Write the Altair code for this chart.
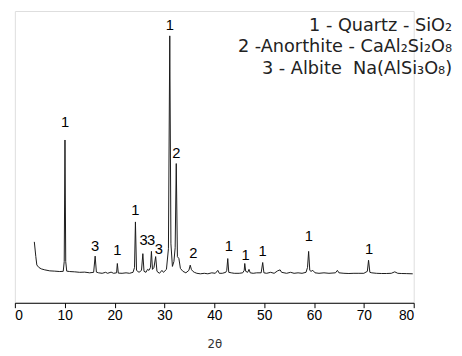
import altair as alt
import pandas as pd

# XRD trace: 2-theta (deg) and intensity (arbitrary counts)
two_theta = [
    3.9, 4.2, 4.4, 4.8, 5.3, 6.0, 7.0, 8.0, 9.0, 9.7, 9.9, 10.05, 10.2, 10.4,
    11.0, 12.0, 13.0, 14.0, 15.0, 15.8, 16.1, 16.35, 16.8, 17.5, 18.2, 18.6,
    19.3, 19.8, 20.4, 20.55, 20.75, 21.5, 22.3, 23.0, 23.7, 24.0, 24.18, 24.4,
    24.9, 25.4, 25.67, 25.9, 26.3, 26.6, 26.9, 27.2, 27.39, 27.6, 27.9, 28.24,
    28.5, 29.0, 29.5, 29.8, 30.4, 30.8, 31.07, 31.3, 31.6, 31.9, 32.15, 32.37,
    32.6, 32.9, 33.2, 33.7, 34.3, 34.9, 35.17, 35.4, 35.7, 36.0, 36.5, 37.2,
    38.0, 38.7, 39.5, 40.2, 40.7, 41.0, 41.6, 42.3, 42.5, 42.7, 42.9, 43.4,
    44.0, 45.0, 45.7, 46.0, 46.11, 46.3, 46.7, 46.96, 47.2, 47.8, 48.5, 49.4,
    49.71, 49.95, 50.5, 51.3, 52.0, 52.7, 53.2, 53.5, 54.5, 55.3, 56.0, 56.8,
    57.6, 58.4, 58.7, 58.92, 59.15, 59.4, 59.76, 60.2, 61.0, 62.0, 63.0, 64.3,
    64.69, 65.0, 66.0, 67.0, 68.0, 69.0, 70.0, 70.7, 70.94, 71.2, 71.6, 72.5,
    73.5, 74.5, 75.5, 76.2, 76.8, 77.5, 78.5, 79.8,
]
intensity = [
    620, 470, 385, 360, 345, 335, 325, 322, 318, 320, 420, 1657, 420, 322,
    318, 315, 310, 312, 305, 310, 475, 312, 305, 300, 310, 300,
    312, 300, 305, 400, 302, 300, 305, 300, 310, 360, 823, 330,
    310, 330, 500, 320, 310, 340, 330, 360, 523, 340, 360, 470,
    320, 300, 330, 310, 340, 550, 2717, 600, 370, 420, 560, 1417,
    470, 450, 350, 320, 305, 330, 383, 340, 320, 310, 300, 295,
    300, 295, 305, 300, 330, 300, 300, 310, 330, 450, 310, 305,
    300, 300, 305, 330, 400, 320, 310, 340, 305, 300, 305, 305,
    410, 305, 300, 310, 300, 325, 335, 310, 300, 310, 300, 305,
    300, 310, 360, 523, 330, 320, 330, 305, 300, 305, 300, 305,
    330, 305, 300, 298, 300, 300, 300, 320, 433, 310, 305, 300,
    298, 298, 300, 315, 300, 298, 297, 295,
]

# Peak phase labels
label_x = [10.05, 16.1, 20.55, 24.18, 25.8, 27.33, 28.9, 31.07, 32.37, 35.8,
           42.9, 46.3, 49.7, 58.97, 71.07]
label_text = ["1", "3", "1", "1", "3", "3", "3", "1", "2", "2",
              "1", "1", "1", "1", "1"]
label_y = [1840, 575, 533, 940, 640, 640, 550, 2825, 1525, 510,
           575, 490, 525, 675, 542]

legend_lines = [
    "1 - Quartz - SiO₂",
    "2 -Anorthite - CaAl₂Si₂O₈",
    "3 - Albite\u00a0 Na(AlSi₃O₈)",
]
legend_baselines = [20.3, 42.0, 63.7]

tick_values = list(range(0, 81, 5))

trace = pd.DataFrame({"t": two_theta, "i": intensity})
labels = pd.DataFrame({"t": label_x, "lab": label_text, "i": label_y})

xscale = alt.Scale(domain=[0, 80], nice=False, zero=False)
yscale = alt.Scale(domain=[0, 2970], nice=False)

line = alt.Chart(trace).mark_line(color="#1a1a1a", strokeWidth=1).encode(
    x=alt.X("t:Q", scale=xscale, title="2θ",
            axis=alt.Axis(values=tick_values,
                          labelExpr="datum.value % 10 == 0 ? datum.label : ''",
                          grid=False, tickSize=5, tickColor="black",
                          domainColor="black", labelColor="black",
                          labelFont="Liberation Sans", labelFontSize=14,
                          labelPadding=1, titleFont="DejaVu Sans",
                          titleFontSize=12, titleFontWeight="normal",
                          titleColor="#333", titlePadding=17)),
    y=alt.Y("i:Q", scale=yscale, axis=None),
)

peak_text = alt.Chart(labels).mark_text(
    font="Liberation Sans", fontSize=15, color="black", baseline="middle"
).encode(
    x=alt.X("t:Q", scale=xscale),
    y=alt.Y("i:Q", scale=yscale),
    text="lab:N",
)

legend_layers = []
for txt, yb in zip(legend_lines, legend_baselines):
    legend_layers.append(
        alt.Chart(pd.DataFrame({"txt": [txt]})).mark_text(
            font="DejaVu Sans", fontSize=18, color="#222",
            align="right", baseline="alphabetic"
        ).encode(x=alt.value(445), y=alt.value(yb), text="txt:N")
    )

chart = alt.layer(line, peak_text, *legend_layers).properties(
    width=406, height=297,
    autosize=alt.AutoSizeParams(type="none"),
    padding={"left": 7, "top": 0, "right": 41, "bottom": 45},
).configure_view(stroke=None).configure(background="white")

chart.save("out.html", embed_options={"renderer": "svg", "actions": False})
